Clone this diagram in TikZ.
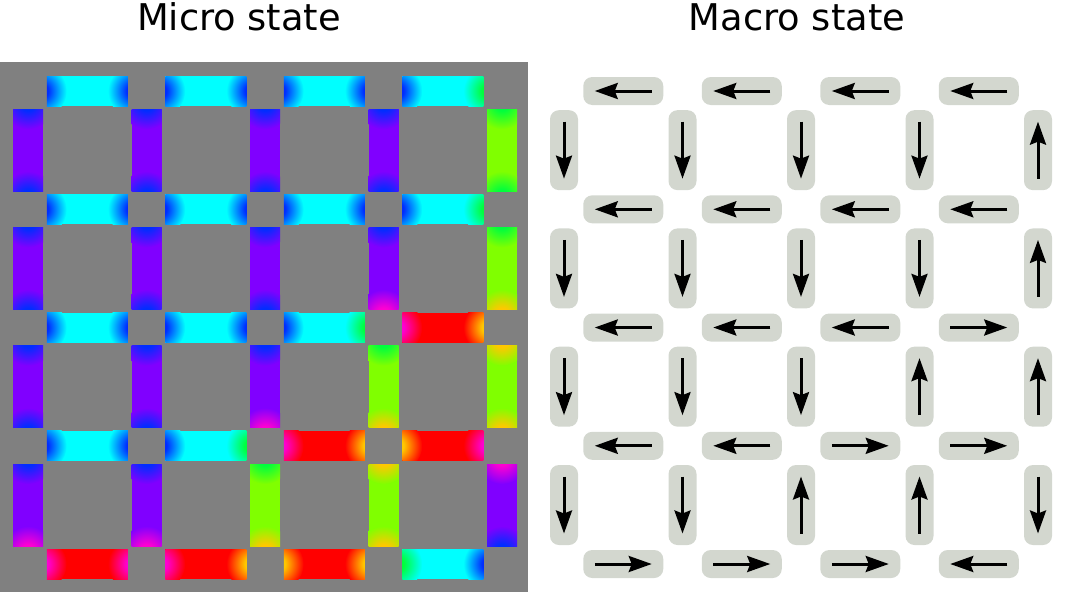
\documentclass[tikz,border=0pt]{standalone}
\usepackage{fontspec}
\setmainfont{DejaVu Sans}
\usetikzlibrary{arrows.meta}
\definecolor{bg}{RGB}{128,128,128}
\definecolor{boxc}{RGB}{211,215,207}
\definecolor{sl}{RGB}{0,255,255}
\definecolor{sd}{RGB}{128,0,255}
\definecolor{su}{RGB}{128,255,0}
\definecolor{sr}{RGB}{255,0,0}
\definecolor{mb}{RGB}{0,45,255}
\definecolor{mg}{RGB}{0,255,60}
\definecolor{mm}{RGB}{255,0,210}
\definecolor{my}{RGB}{255,200,0}
\colorlet{endin}{black}
\colorlet{endout}{black}
\pgfdeclareradialshading[endin,endout]{endfade}{\pgfpointorigin}{color(0bp)=(endin); color(7bp)=(endin); color(25bp)=(endout); color(50bp)=(endout)}

% one micro bar: name, x, y, colour, colour at first end, colour at second end
\newcommand{\microh}[6]{%
  \node (#1) [hbit, fill=#4] at (#2pt, #3pt) {};
  \begin{scope}
    \clip (#1.south west) rectangle (#1.north east);
    \colorlet{endout}{#4}\colorlet{endin}{#5}
    \shade [shading=endfade] ([xshift=-6pt]#1.west) circle (26pt);
    \colorlet{endin}{#6}
    \shade [shading=endfade] ([xshift=6pt]#1.east) circle (26pt);
  \end{scope}}
\newcommand{\microv}[6]{%
  \node (#1) [vbit, fill=#4] at (#2pt, #3pt) {};
  \begin{scope}
    \clip (#1.south west) rectangle (#1.north east);
    \colorlet{endout}{#4}\colorlet{endin}{#5}
    \shade [shading=endfade] ([yshift=6pt]#1.north) circle (26pt);
    \colorlet{endin}{#6}
    \shade [shading=endfade] ([yshift=-6pt]#1.south) circle (26pt);
  \end{scope}}
% one macro spin: name, style, x, y, tail anchor, tip anchor
\newcommand{\spinbox}[6]{%
  \node (#1) [#2] at (#3pt, #4pt) {};
  \draw [spin] (#1.#5) -- (#1.#6);}

\begin{document}
\begin{tikzpicture}[
  hbit/.style={rectangle, minimum width=81pt, minimum height=30pt, inner sep=0pt, outer sep=0pt},
  vbit/.style={rectangle, minimum width=30pt, minimum height=82pt, inner sep=0pt, outer sep=0pt},
  hbox/.style={rectangle, rounded corners=9pt, fill=boxc, minimum width=80pt, minimum height=28pt, inner sep=0pt, outer sep=0pt},
  vbox/.style={rectangle, rounded corners=9pt, fill=boxc, minimum width=28pt, minimum height=80pt, inner sep=0pt, outer sep=0pt},
  spin/.style={-{Stealth[length=23pt, width=16pt, inset=3pt]}, line width=3pt, shorten <=11.5pt, shorten >=11.5pt},
  title/.style={anchor=base, inner sep=0pt, font=\fontsize{36.8pt}{40pt}\selectfont}]
\useasboundingbox (0pt, 0pt) rectangle (1082pt, -592pt);
\node (micro) [title] at (239pt, -30pt) {Micro state};
\node (macro) [title] at (797pt, -30pt) {Macro state};
\fill [bg] (0pt, -62pt) rectangle (528pt, -592pt);
% micro state
\microh{h00}{87.25}{-91}{sl}{mb}{mb}
\microh{h01}{205.75}{-91}{sl}{mb}{mb}
\microh{h02}{324.25}{-91}{sl}{mb}{mb}
\microh{h03}{442.75}{-91}{sl}{mb}{mg}
\microh{h10}{87.25}{-209.3}{sl}{mb}{mb}
\microh{h11}{205.75}{-209.3}{sl}{mb}{mb}
\microh{h12}{324.25}{-209.3}{sl}{mb}{mb}
\microh{h13}{442.75}{-209.3}{sl}{mb}{mg}
\microh{h20}{87.25}{-327.5}{sl}{mb}{mb}
\microh{h21}{205.75}{-327.5}{sl}{mb}{mb}
\microh{h22}{324.25}{-327.5}{sl}{mb}{mg}
\microh{h23}{442.75}{-327.5}{sr}{mm}{my}
\microh{h30}{87.25}{-445.8}{sl}{mb}{mb}
\microh{h31}{205.75}{-445.8}{sl}{mb}{mg}
\microh{h32}{324.25}{-445.8}{sr}{mm}{my}
\microh{h33}{442.75}{-445.8}{sr}{my}{mm}
\microh{h40}{87.25}{-564}{sr}{mm}{mm}
\microh{h41}{205.75}{-564}{sr}{mm}{my}
\microh{h42}{324.25}{-564}{sr}{my}{my}
\microh{h43}{442.75}{-564}{sl}{mg}{mb}
\microv{v00}{28}{-150.15}{sd}{mb}{mb}
\microv{v01}{146.5}{-150.15}{sd}{mb}{mb}
\microv{v02}{265}{-150.15}{sd}{mb}{mb}
\microv{v03}{383.5}{-150.15}{sd}{mb}{mb}
\microv{v04}{502}{-150.15}{su}{mg}{mg}
\microv{v10}{28}{-268.4}{sd}{mb}{mb}
\microv{v11}{146.5}{-268.4}{sd}{mb}{mb}
\microv{v12}{265}{-268.4}{sd}{mb}{mb}
\microv{v13}{383.5}{-268.4}{sd}{mb}{mm}
\microv{v14}{502}{-268.4}{su}{mg}{my}
\microv{v20}{28}{-386.65}{sd}{mb}{mb}
\microv{v21}{146.5}{-386.65}{sd}{mb}{mb}
\microv{v22}{265}{-386.65}{sd}{mb}{mm}
\microv{v23}{383.5}{-386.65}{su}{mg}{my}
\microv{v24}{502}{-386.65}{su}{my}{my}
\microv{v30}{28}{-505}{sd}{mb}{mm}
\microv{v31}{146.5}{-505}{sd}{mb}{mm}
\microv{v32}{265}{-505}{su}{mg}{my}
\microv{v33}{383.5}{-505}{su}{my}{my}
\microv{v34}{502}{-505}{sd}{mm}{mb}
% macro state
\spinbox{mh00}{hbox}{623.25}{-91}{east}{west}
\spinbox{mh01}{hbox}{741.75}{-91}{east}{west}
\spinbox{mh02}{hbox}{860.25}{-91}{east}{west}
\spinbox{mh03}{hbox}{978.75}{-91}{east}{west}
\spinbox{mh10}{hbox}{623.25}{-209.3}{east}{west}
\spinbox{mh11}{hbox}{741.75}{-209.3}{east}{west}
\spinbox{mh12}{hbox}{860.25}{-209.3}{east}{west}
\spinbox{mh13}{hbox}{978.75}{-209.3}{east}{west}
\spinbox{mh20}{hbox}{623.25}{-327.5}{east}{west}
\spinbox{mh21}{hbox}{741.75}{-327.5}{east}{west}
\spinbox{mh22}{hbox}{860.25}{-327.5}{east}{west}
\spinbox{mh23}{hbox}{978.75}{-327.5}{west}{east}
\spinbox{mh30}{hbox}{623.25}{-445.8}{east}{west}
\spinbox{mh31}{hbox}{741.75}{-445.8}{east}{west}
\spinbox{mh32}{hbox}{860.25}{-445.8}{west}{east}
\spinbox{mh33}{hbox}{978.75}{-445.8}{west}{east}
\spinbox{mh40}{hbox}{623.25}{-564}{west}{east}
\spinbox{mh41}{hbox}{741.75}{-564}{west}{east}
\spinbox{mh42}{hbox}{860.25}{-564}{west}{east}
\spinbox{mh43}{hbox}{978.75}{-564}{east}{west}
\spinbox{mv00}{vbox}{564}{-150.15}{north}{south}
\spinbox{mv01}{vbox}{682.5}{-150.15}{north}{south}
\spinbox{mv02}{vbox}{801}{-150.15}{north}{south}
\spinbox{mv03}{vbox}{919.5}{-150.15}{north}{south}
\spinbox{mv04}{vbox}{1038}{-150.15}{south}{north}
\spinbox{mv10}{vbox}{564}{-268.4}{north}{south}
\spinbox{mv11}{vbox}{682.5}{-268.4}{north}{south}
\spinbox{mv12}{vbox}{801}{-268.4}{north}{south}
\spinbox{mv13}{vbox}{919.5}{-268.4}{north}{south}
\spinbox{mv14}{vbox}{1038}{-268.4}{south}{north}
\spinbox{mv20}{vbox}{564}{-386.65}{north}{south}
\spinbox{mv21}{vbox}{682.5}{-386.65}{north}{south}
\spinbox{mv22}{vbox}{801}{-386.65}{north}{south}
\spinbox{mv23}{vbox}{919.5}{-386.65}{south}{north}
\spinbox{mv24}{vbox}{1038}{-386.65}{south}{north}
\spinbox{mv30}{vbox}{564}{-505}{north}{south}
\spinbox{mv31}{vbox}{682.5}{-505}{north}{south}
\spinbox{mv32}{vbox}{801}{-505}{south}{north}
\spinbox{mv33}{vbox}{919.5}{-505}{south}{north}
\spinbox{mv34}{vbox}{1038}{-505}{north}{south}
\end{tikzpicture}
\end{document}
